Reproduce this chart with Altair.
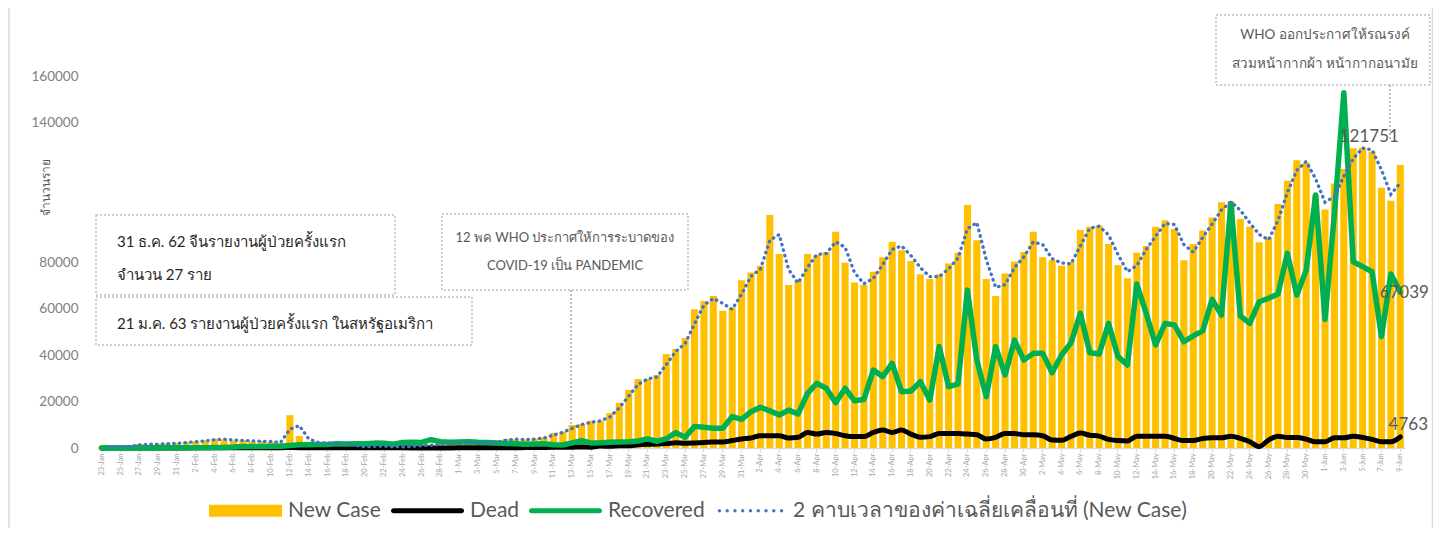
import altair as alt
import pandas as pd

# ---------------- data ----------------
dates = [d.strftime("%-d-%b") for d in pd.date_range("2020-01-23", "2020-06-09")]

new_cases = [
    580, 260, 680, 790, 1770, 1460, 1740, 1980, 2100,
    2590, 2830, 3240, 3900, 3700, 3160, 3440, 2730, 3030, 2550, 2060,
    14110, 5150, 2660, 2100, 2060, 1890, 1750, 400, 620, 900, 650, 590, 460, 920,
    1100, 1400, 1800, 1900,
    2300, 1800, 2400, 2200, 2800, 3900, 3700, 3600, 4000, 4600, 6450, 7000, 9900,
    10300, 11700, 11700, 15000, 19500, 25000, 29700, 29700, 31400, 40400, 42600,
    47300, 59700, 63200, 65400, 59000, 60300, 72200,
    75500, 78400, 100200, 83400, 70100, 71900, 83400, 83000, 84300, 93000, 79700,
    71200, 70100, 75800, 82000, 88700, 85100, 80400, 74700, 72700, 74700, 79400,
    84000, 104500, 89400, 72700, 65400, 75100, 80100, 84300,
    93000, 82000, 80800, 78400, 80000, 93800, 95200, 95600, 87700, 78700, 73000,
    84000, 86900, 95200, 98000, 94200, 80800, 87700, 93500, 99100, 105700, 106000,
    98500, 95200, 88500, 90600, 104900, 115000, 123800, 122700, 108800,
    102600, 113800, 120000, 128900, 129100, 127400, 111900, 106300, 121751,
]

dead = [
    20, 10, 15, 25, 25, 26, 38, 43, 46,
    45, 57, 64, 66, 73, 73, 86, 89, 97, 108, 97, 254, 121, 143, 142, 106, 98, 136,
    115, 118, 109, 97, 150, 71, 52, 29, 44, 47, 35,
    58, 67, 81, 94, 103, 102, 102, 179, 206, 237, 291, 328, 357, 443, 362, 815, 743,
    979, 1000, 1400, 1600, 1700, 1900, 2300, 2000, 2200, 2400, 2600, 2600, 3200, 3900,
    4300, 5300, 5300, 5300, 4300, 4600, 6700, 6000, 6700, 6200, 5300, 4900, 4900,
    6700, 7700, 6700, 7700, 6000, 4600, 4900, 6200, 6200, 6200, 6000, 5700, 3900,
    4600, 6200, 6200, 5700,
    5700, 5300, 3400, 3300, 5000, 6400, 5500, 5100, 3700, 3200, 3000, 5100, 5100,
    5100, 5100, 4100, 3200, 3200, 4100, 4400, 4400, 5100, 4100, 2700, 600, 3400,
    5100, 4500, 4500, 3800, 2700,
    2700, 4400, 4400, 5100, 4500, 3700, 2700, 2700, 4763,
]

recovered = [
    0, 10, 10, 20, 30, 50, 40, 70, 60,
    80, 140, 160, 250, 260, 380, 600, 680, 630, 720, 740, 1100, 1380, 1370, 1550,
    1470, 1800, 1750, 1790, 1780, 2100, 2000, 1600, 2400, 2500, 2400, 3600, 2700, 2500,
    2600, 2700, 2500, 2400, 2200, 1900, 1800, 1600, 1700, 1800, 1400, 1300, 2200,
    3100, 2200, 2300, 2500, 2600, 2700, 3000, 3900, 2900, 4000, 6600, 4600, 9300,
    8900, 8500, 8500, 13500, 12300,
    15600, 17500, 16000, 14200, 16300, 14600, 23500, 27800, 25700, 19500, 25700,
    20300, 20900, 33500, 30700, 36400, 24200, 24500, 28500, 20600, 43600, 26400,
    27500, 67900, 37800, 22100, 43600, 31400, 46400, 37800,
    40700, 40700, 32400, 40000, 45200, 57900, 41000, 40400, 53600, 39300, 35700,
    70500, 57900, 44300, 53600, 52900, 45700, 48200, 50400, 63900, 57200, 105200,
    56800, 53600, 62900, 64400, 66200, 83700, 65800, 76500, 108800,
    55300, 100900, 152800, 80100, 78000, 75800, 47900, 74800, 67039,
]

series_names = ["New Case", "Dead", "Recovered",
                "2 คาบเวลาของค่าเฉลี่ยเคลื่อนที่ (New Case)"]
series_colors = ["#FFC000", "#000000", "#00B050", "#4472C4"]

y_ticks = [0, 20000, 40000, 60000, 80000, 100000, 120000, 140000, 160000]

note_china = ["31 ธ.ค. 62 จีนรายงานผู้ป่วยครั้งแรก", "จำนวน 27 ราย"]
note_usa = "21 ม.ค. 63 รายงานผู้ป่วยครั้งแรก ในสหรัฐอเมริกา"
note_pandemic = ["12 พค WHO ประกาศให้การระบาดของ", "COVID-19 เป็น PANDEMIC"]
note_mask = ["WHO ออกประกาศให้รณรงค์", "สวมหน้ากากผ้า หน้ากากอนามัย"]
y_title = "จำนวนราย"

df = pd.DataFrame({
    "idx": list(range(len(dates))),
    "date": dates,
    "new": new_cases,
    "dead": dead,
    "rec": recovered,
})
last = df.iloc[[-1]]

FONT = "Lato, 'Noto Sans', sans-serif"
W, H = 1308, 372

# ---------------- encodings ----------------
x_enc = alt.X(
    "date:O",
    scale=alt.Scale(domain=dates, paddingInner=0.25, paddingOuter=0.125),
    axis=alt.Axis(
        values=dates[::2], labelAngle=270, labelFontSize=7.5, labelColor="#A6A6A6",
        domainColor="#D9D9D9", domainWidth=1.5, tickColor="#D9D9D9", tickSize=4,
        labelPadding=1, title=None, grid=False, labelFont=FONT,
    ),
)

y_axis = alt.Axis(
    values=y_ticks, format="d",
    labelExpr="datum.value == 100000 || datum.value == 120000 ? '' : datum.label",
    title=y_title, titleX=-52, titleY=111, titleAngle=270, titleAlign="center",
    titleBaseline="middle", titleFontSize=12, titleColor="#595959",
    titleFontWeight="normal", titleFont=FONT,
    labelFontSize=13.5, labelColor="#808080", labelFont=FONT,
    ticks=False, domain=False, grid=False, labelPadding=19,
)
y_scale = alt.Scale(domain=[0, 160000], nice=False)


def Y(field):
    return alt.Y(field, scale=y_scale, axis=y_axis)


base = alt.Chart(df)

bars = base.mark_bar(color="#FFC000").encode(x=x_enc, y=Y("new:Q"))

dead_line = base.mark_line(color="#000000", strokeWidth=5, interpolate="monotone",
                           strokeJoin="round", strokeCap="round").encode(
    x=x_enc, y=Y("dead:Q"), order="idx:Q")

rec_line = base.mark_line(color="#00B050", strokeWidth=5.5, strokeJoin="round",
                          strokeCap="round").encode(
    x=x_enc, y=Y("rec:Q"), order="idx:Q")

ma_line = base.transform_window(
    ma="mean(new)", cnt="count()", frame=[-1, 0], sort=[{"field": "idx"}]
).transform_filter("datum.cnt == 2").mark_line(
    color="#4472C4", strokeWidth=3.3, strokeDash=[0.5, 5.2], strokeCap="round"
).encode(x=x_enc, y=Y("ma:Q"), order="idx:Q")

# end-value labels
lab_kw = dict(fontSize=17, color="#595959", font=FONT, baseline="middle", align="center")
lab_new = alt.Chart(last).mark_text(dx=-31, dy=-28, **lab_kw).encode(
    x=x_enc, y=Y("new:Q"), text="new:Q")
lab_rec = alt.Chart(last).mark_text(dx=4, dy=1, **lab_kw).encode(
    x=x_enc, y=Y("rec:Q"), text="rec:Q")
lab_dead = alt.Chart(last).mark_text(dx=8, dy=-12, **lab_kw).encode(
    x=x_enc, y=Y("dead:Q"), text="dead:Q")

# ---------------- legend ----------------
r = 0.045
dot_centers = [-0.85 + k * (1.7 / 8) for k in range(9)]
dots_path = " ".join(
    f"M{cx - r:.3f},0a{r},{r} 0 1,0 {2 * r},0a{r},{r} 0 1,0 {-2 * r},0"
    for cx in dot_centers
)
line_path = "M-0.93,-0.07H0.93A0.07,0.07 0 0,1 0.93,0.07H-0.93A0.07,0.07 0 0,1 -0.93,-0.07Z"
legend_shapes = [
    "M-1,-0.165H1V0.165H-1Z",
    line_path,
    line_path,
    dots_path,
]
legend_kw = dict(
    orient="none", legendX=112, legendY=398, direction="horizontal", title=None,
    labelFontSize=21, labelColor="#595959", labelFont=FONT, symbolSize=5329,
    labelOffset=6, columnPadding=9, symbolStrokeWidth=0, labelLimit=0,
    symbolOpacity=1,
)
legend_df = pd.DataFrame({"series": series_names})
legend_layer = alt.Chart(legend_df).mark_point(filled=True, opacity=1).encode(
    x=alt.value(-3000), y=alt.value(-3000),
    color=alt.Color("series:N", scale=alt.Scale(domain=series_names, range=series_colors),
                    legend=alt.Legend(**legend_kw)),
    shape=alt.Shape("series:N", scale=alt.Scale(domain=series_names, range=legend_shapes),
                    legend=alt.Legend(**legend_kw)),
)

# ---------------- annotations ----------------
def box(x1, x2, y1, y2):
    return alt.Chart(legend_df.head(1)).mark_rect(
        fill=None, stroke="#BFBFBF", strokeWidth=1.5, strokeDash=[2, 2]
    ).encode(x=alt.value(x1), x2=alt.value(x2), y=alt.value(y1), y2=alt.value(y2))


def vline(x, y1, y2):
    return alt.Chart(legend_df.head(1)).mark_rule(
        stroke="#A6A6A6", strokeWidth=1.5, strokeDash=[2, 2]
    ).encode(x=alt.value(x), y=alt.value(y1), y2=alt.value(y2))


def note(txt, x, y, size, color, align):
    return alt.Chart(legend_df.head(1)).mark_text(
        text=txt, fontSize=size, color=color, font=FONT, align=align, baseline="middle"
    ).encode(x=alt.value(x), y=alt.value(y))


annots = [
    box(-1, 298, 139, 219), box(-1, 375, 221, 269),
    box(345, 591, 138, 214), box(1119, 1333, -61, 9),
    vline(474, 214, 352), vline(1293, 9, 64),
    note(note_china[0], 20, 166, 15, "#262626", "left"),
    note(note_china[1], 20, 199, 15, "#262626", "left"),
    note(note_usa, 20, 248, 15, "#262626", "left"),
    note(note_pandemic[0], 468, 162, 13, "#595959", "center"),
    note(note_pandemic[1], 468, 190, 13, "#595959", "center"),
    note(note_mask[0], 1228, -41, 13.5, "#595959", "center"),
    note(note_mask[1], 1228, -12, 13.5, "#595959", "center"),
]

frame = [
    alt.Chart(legend_df.head(1)).mark_rule(stroke="#D9D9D9", strokeWidth=1.5).encode(
        x=alt.value(xv), y=alt.value(-68), y2=alt.value(452))
    for xv in (-88, 1335.5)
]

chart = alt.layer(
    bars, dead_line, rec_line, ma_line, lab_new, lab_rec, lab_dead,
    *annots, *frame, legend_layer,
).properties(
    width=W, height=H,
    background="white",
    autosize=alt.AutoSizeParams(type="none"),
    padding={"left": 89, "top": 68, "right": 28, "bottom": 80},
).configure_view(strokeWidth=0, stroke="transparent")

chart.save("out.html", embed_options={"renderer": "svg", "actions": False})
